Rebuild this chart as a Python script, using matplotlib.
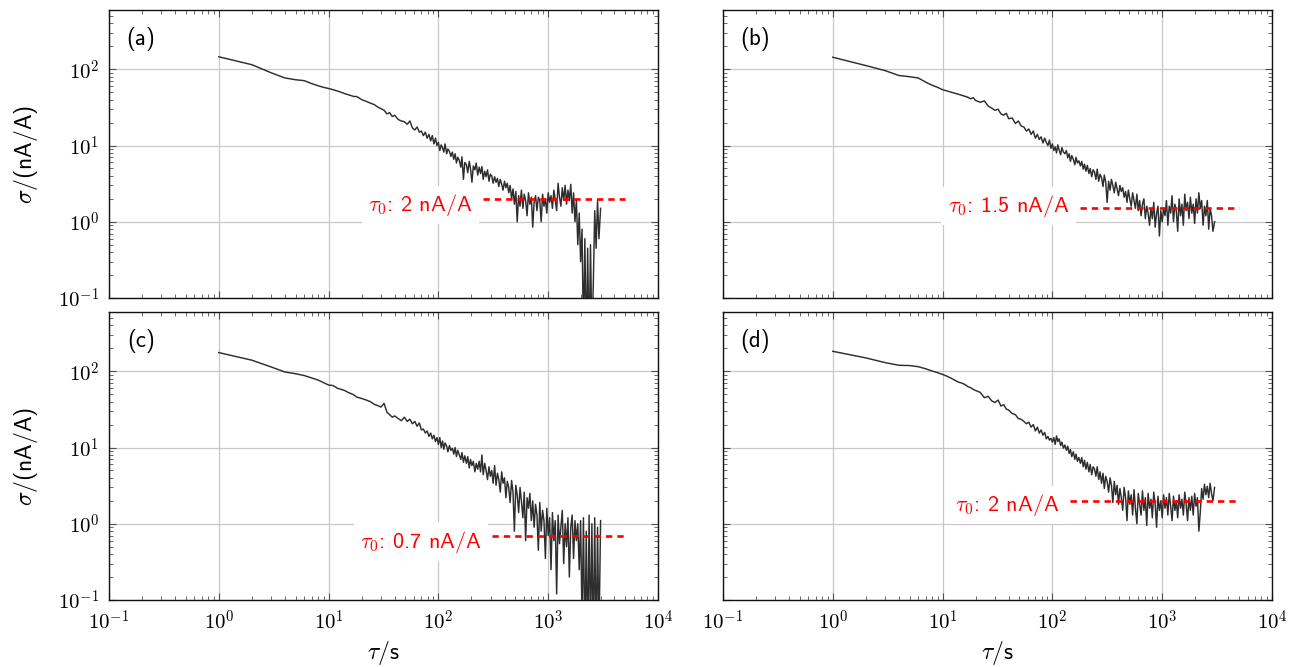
"""Allan deviation of the four current-ratio runs, 2x2 log-log panels -> out.png"""
import math

import matplotlib

matplotlib.use("Agg")
import matplotlib.pyplot as plt  # noqa: E402
from matplotlib.ticker import FuncFormatter, LogLocator, NullFormatter  # noqa: E402

plt.rcParams["mathtext.fontset"] = "cm"
plt.rcParams["font.family"] = ["cmss10", "DejaVu Sans"]
plt.rcParams["axes.unicode_minus"] = False

# averaging time tau / s (shared by all four runs)
TAU = [
    1, 2, 3, 4, 5, 6, 7, 8, 9, 10,
    11, 12, 13, 14, 15, 16, 17, 18, 19, 20,
    22, 24, 26, 28, 30, 32, 34, 36, 38, 40,
    43, 46, 49, 52, 55, 58, 61, 64, 67, 70,
    73, 76, 79, 82, 85, 88, 91, 94, 97,
    100, 103, 106, 109, 112, 115, 119, 122, 126, 130,
    134, 138, 142, 146, 150, 155, 160, 164, 169, 174,
    180, 185, 191, 196, 202, 208, 215, 221, 228, 235,
    242, 249, 256, 264, 272, 280, 289, 297, 306, 315,
    325, 335, 345, 355, 366, 377, 388, 400, 412, 424,
    437, 450, 464, 478, 492, 507, 522, 538, 554, 570,
    588, 605, 623, 642, 661, 681, 702, 723, 744, 767,
    790, 813, 838, 863, 889, 915, 943, 971, 1000, 1030,
    1061, 1093, 1126, 1159, 1194, 1230, 1267, 1305, 1344, 1384,
    1426, 1469, 1513, 1558, 1605, 1653, 1702, 1753, 1806, 1860,
    1916, 1974, 2033, 2094, 2157, 2221, 2288, 2357, 2427, 2500,
    2575, 2652, 2732, 2814, 2898, 3000,
]

# sigma / (nA/A) per run
SIGMA_A = [
    146, 115, 90, 77, 73, 71, 65, 61, 58, 56,
    54, 52, 50, 48, 46.5, 45, 44, 44, 42, 40,
    38, 36, 34.5, 32, 30.5, 29, 26, 27, 24, 25,
    22, 21, 20.5, 19, 21, 17, 16, 17.5, 15, 15.5,
    13.5, 15, 12.5, 14, 11.5, 13.5, 10.5, 12.5, 10,
    11, 8.6, 10.2, 9.4, 8.2, 10.5, 7.8, 9.0, 8.4, 7.2,
    8.2, 6.6, 7.8, 5.9, 7.0, 6.4, 5.2, 7.1, 3.6, 6.0,
    5.6, 4.4, 6.2, 5.0, 3.3, 5.4, 4.8, 5.9, 4.1, 5.2,
    4.3, 5.3, 3.6, 4.6, 3.9, 4.8, 3.4, 4.2, 4.0, 3.2,
    3.9, 3.3, 3.7, 2.9, 3.6, 3.1, 2.6, 3.4, 2.8, 3.2,
    2.4, 3.0, 2.0, 2.7, 1.7, 2.5, 1.0, 2.2, 1.6, 2.6,
    1.5, 2.3, 1.9, 1.2, 2.4, 1.7, 2.1, 0.85, 1.8, 2.2,
    1.4, 2.1, 1.9, 1.0, 2.3, 1.6, 2.0, 1.3, 2.4, 1.8,
    2.2, 1.5, 2.6, 1.9, 1.4, 3.2, 2.1, 1.6, 2.8, 1.9,
    3.0, 1.7, 2.6, 1.9, 3.1, 1.3, 2.4, 1.0, 1.9, 0.5,
    1.3, 0.3, 0.8, 0.03, 0.6, 0.02, 0.45, 0.02, 0.5, 0.03,
    0.15, 1.4, 0.45, 1.9, 0.6, 1.5,
]
SIGMA_B = [
    144, 112, 96, 83, 80, 77, 68, 62, 58, 54,
    52, 50, 48.5, 47, 45.5, 44, 43, 41, 42.5, 39,
    37, 38.5, 33, 31, 29, 30, 26, 25, 26.5, 22.5,
    23, 19.5, 21, 18, 17.5, 15.5, 16.5, 14, 15.5, 12.5,
    14, 12, 13, 10.8, 12.5, 11, 10, 11.8, 9.2,
    10.5, 8.6, 9.6, 8.0, 10.2, 8.8, 7.6, 9.4, 8.2, 7.8,
    8.6, 6.9, 7.8, 6.2, 7.4, 6.6, 5.6, 7.0, 5.9, 6.3,
    5.4, 6.2, 4.9, 5.7, 4.6, 5.5, 4.3, 5.0, 3.9, 4.8,
    4.5, 3.6, 4.9, 3.4, 4.2, 3.8, 2.9, 4.1, 3.3, 1.8,
    3.4, 2.6, 3.6, 3.0, 2.4, 3.3, 2.7, 2.2, 3.0, 2.5,
    2.8, 2.1, 2.5, 1.8, 2.6, 2.0, 1.6, 2.4, 1.9, 1.5,
    2.3, 1.4, 1.9, 1.2, 1.7, 2.0, 1.1, 1.6, 1.3, 0.9,
    1.5, 1.1, 1.8, 0.85, 1.3, 1.6, 0.65, 1.4, 1.0, 1.5,
    1.2, 1.9, 0.9, 1.6, 1.3, 2.2, 1.0, 1.7, 1.4, 0.75,
    2.0, 1.2, 1.7, 0.9, 2.3, 1.4, 1.8, 1.1, 2.1, 1.3,
    1.7, 0.95, 2.0, 1.3, 2.4, 1.5, 1.9, 0.9, 1.6, 1.2,
    1.9, 0.8, 1.5, 1.2, 0.75, 1.0,
]
SIGMA_C = [
    176, 140, 114, 98, 93, 88, 82, 77, 71, 66,
    65, 60, 58, 56, 53, 51, 49, 46, 45, 44,
    42, 40, 37, 35.5, 34, 38, 29, 27, 25, 26,
    24, 22.5, 25, 22, 23.5, 20.5, 22, 19, 21, 17,
    17.5, 15.5, 16.5, 14, 15.5, 13, 14.5, 12, 13.5,
    11, 13.5, 10, 12.2, 9.5, 11.5, 10.4, 8.8, 10.6, 9.2,
    9.8, 8.2, 10.0, 7.6, 9.2, 8.0, 7.0, 8.6, 6.4, 7.8,
    6.2, 7.6, 5.4, 7.0, 5.8, 6.6, 4.8, 6.2, 5.2, 6.6,
    4.8, 8.0, 4.4, 6.2, 5.0, 3.8, 5.6, 4.2, 5.0, 3.4,
    5.8, 3.2, 4.6, 3.8, 2.6, 4.8, 3.4, 4.0, 2.2, 3.6,
    3.0, 1.9, 3.7, 2.6, 0.8, 3.2, 2.4, 1.4, 3.0, 2.0,
    1.2, 2.6, 0.6, 2.2, 1.6, 2.5, 1.1, 2.0, 0.9, 1.8,
    1.3, 0.45, 1.9, 0.8, 1.5, 1.1, 0.35, 1.6, 0.7, 1.2,
    0.25, 1.4, 0.6, 1.1, 0.12, 1.3, 0.55, 0.9, 1.5, 0.3,
    1.0, 0.5, 1.2, 0.2, 0.9, 1.3, 0.35, 1.1, 0.6, 1.0,
    0.25, 1.1, 0.05, 1.2, 0.02, 0.8, 0.02, 1.3, 0.03, 1.0,
    0.02, 1.2, 0.02, 0.9, 0.03, 1.1,
]
SIGMA_D = [
    183, 150, 130, 120, 119, 115, 108, 101, 96, 91,
    86, 81, 76, 72, 70, 67, 63, 61, 58, 56,
    53, 45, 47, 41, 39, 42, 35, 36.5, 32, 31,
    28, 27, 24, 23.5, 22, 20.5, 21.5, 18.5, 20, 16.5,
    18.5, 15.5, 17, 14.5, 15.8, 13, 14, 12.5, 13.2,
    11.8, 13.5, 11, 14.2, 12, 13, 10.6, 11.8, 9.8, 10.8,
    9.2, 10.4, 8.4, 9.4, 7.6, 8.8, 7.0, 8.2, 6.6, 7.4,
    6.2, 7.4, 5.6, 6.8, 5.2, 6.4, 4.8, 6.0, 4.4, 5.6,
    5.2, 4.2, 5.6, 3.8, 4.8, 3.4, 4.6, 2.9, 4.2, 3.6,
    2.6, 4.0, 3.2, 1.9, 3.6, 2.4, 3.2, 1.8, 2.9, 2.2,
    1.5, 3.0, 2.2, 1.1, 2.7, 1.8, 2.4, 1.3, 2.8, 1.6,
    1.0, 2.5, 1.8, 1.3, 2.7, 1.5, 2.2, 0.95, 2.5, 1.6,
    2.1, 1.2, 2.6, 1.8, 0.9, 2.3, 1.5, 2.0, 1.2, 2.4,
    1.6, 2.2, 1.3, 2.5, 1.7, 1.1, 2.3, 1.5, 2.0, 1.2,
    2.4, 1.6, 2.1, 1.3, 2.6, 1.8, 1.1, 2.2, 1.5, 2.3,
    1.3, 2.5, 1.7, 2.2, 0.8, 1.4, 2.9, 2.1, 3.3, 2.4,
    3.1, 2.2, 3.4, 2.5, 2.0, 3.0,
]

PANEL_TAGS = ["(a)", "(b)", "(c)", "(d)"]
# noise floor tau_0 in nA/A and where its dashed marker starts (tau / s)
TAU0 = [2, 1.5, 0.7, 2]
TAU0_FROM = [255, 178, 308, 145]
TAU0_TO = 5000
LABEL_DY = [-4.3, 1.8, -4.3, -2.9]  # pt, label nudge relative to the dashed line

W, H = 1295, 667
# axes boxes in pixels: left, top, right, bottom
BOXES = [(109, 10, 658, 298), (723, 10, 1272, 298),
         (109, 312, 658, 600), (723, 312, 1272, 600)]


def decade_label(v, _pos):
    return rf"$10^{{{int(round(math.log10(v)))}}}$"


fig = plt.figure(figsize=(W / 100, H / 100), dpi=100)
series = [SIGMA_A, SIGMA_B, SIGMA_C, SIGMA_D]

for i, sig in enumerate(series):
    assert len(sig) == len(TAU)
    l, t, r, b = BOXES[i]
    ax = fig.add_axes([l / W, 1 - b / H, (r - l) / W, (b - t) / H])
    ax.set_xscale("log")
    ax.set_yscale("log")
    ax.set_xlim(1e-1, 1e4)
    ax.set_ylim(1e-1, 600)

    ax.plot(TAU, sig, color="#2e2e2e", lw=1.05, zorder=3)
    ax.plot([TAU0_FROM[i], TAU0_TO], [TAU0[i], TAU0[i]], color="#ff0000",
            lw=1.9, ls=(0, (2.4, 1.9)), zorder=5)
    ax.annotate(rf"$\tau_0$: {TAU0[i]:g} nA/A", xy=(TAU0_FROM[i], TAU0[i]),
                xytext=(-7.5, LABEL_DY[i]), textcoords="offset points",
                ha="right", va="center", color="#ff0000", fontsize=16,
                bbox=dict(fc="white", ec="none", pad=4.5), zorder=4)

    ax.text(0.058, 0.9, PANEL_TAGS[i], transform=ax.transAxes, fontsize=16.5,
            ha="center", va="center")

    ax.xaxis.set_major_locator(LogLocator(base=10, numticks=12))
    ax.yaxis.set_major_locator(LogLocator(base=10, numticks=12))
    for axis in (ax.xaxis, ax.yaxis):
        axis.set_major_formatter(FuncFormatter(decade_label))
        axis.set_minor_locator(LogLocator(base=10, subs=range(2, 10), numticks=12))
        axis.set_minor_formatter(NullFormatter())
    ax.grid(True, which="major", color="#c8c8c8", lw=0.9, zorder=0)
    ax.set_axisbelow(True)
    ax.tick_params(which="both", direction="in", top=True, right=True,
                   color="#505050", labelsize=15, pad=7)
    ax.tick_params(which="major", length=5, width=0.8)
    ax.tick_params(which="minor", length=3, width=0.6)
    for s in ax.spines.values():
        s.set_linewidth(1.0)
        s.set_color("#111111")

    if i < 2:
        ax.tick_params(labelbottom=False)
    else:
        ax.set_xlabel(r"$\tau$/s", fontsize=17)
        ax.xaxis.set_label_coords(0.5, -0.135)
    if i % 2 == 1:
        ax.tick_params(labelleft=False)
    else:
        ax.set_ylabel(r"$\sigma$/(nA/A)", fontsize=17)
        ax.yaxis.set_label_coords(-0.125, 0.5)

fig.savefig("out.png", dpi=100)
